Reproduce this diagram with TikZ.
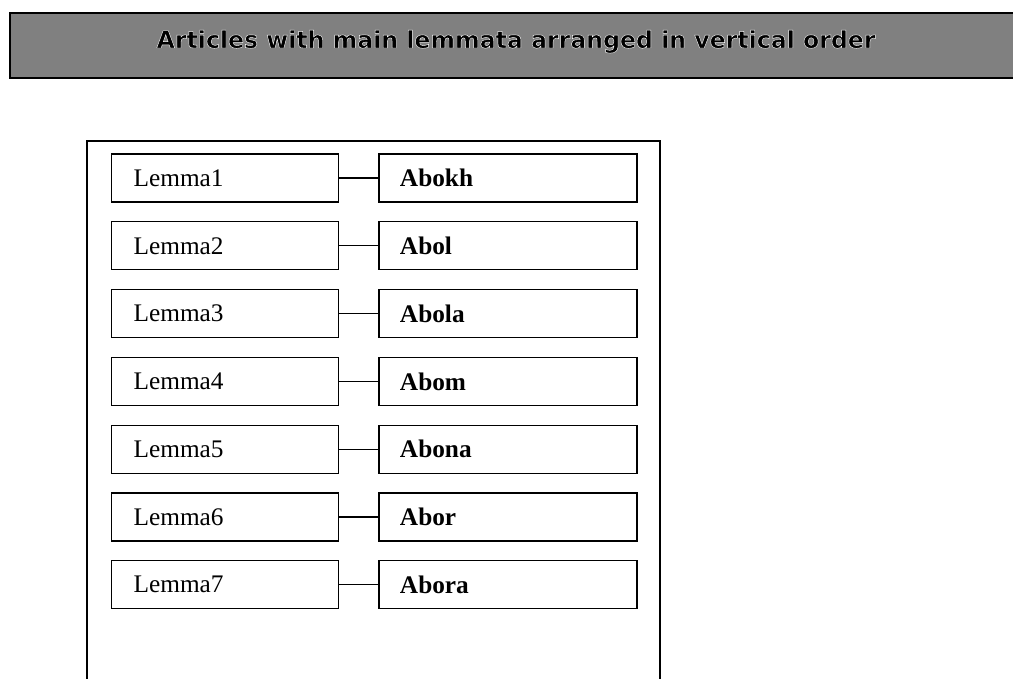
\documentclass[tikz,border=0pt]{standalone}
\usepackage{fontspec}
\usepackage{tikz}
\usetikzlibrary{positioning}

\setmainfont{Liberation Serif}
\newfontfamily\headfont{DejaVu Sans}
% black letters with a thin white rim
\newcommand{\rimtext}[1]{\special{pdf:literal direct 2 Tr 1 1 1 RG 0.3 w}#1\special{pdf:literal direct 0 Tr}}

\tikzset{
  lemmabox/.style={draw, line width=0.9pt, rectangle, anchor=west, minimum height=1.2cm,
    text width=4.575cm, inner xsep=0.55cm, align=left, font=\fontsize{18}{21}\selectfont},
  articlebox/.style={draw, line width=0.9pt, rectangle, minimum height=1.2cm,
    text width=5.4cm, inner xsep=0.525cm, align=left, font=\fontsize{18}{21}\selectfont\bfseries},
  link/.style={line width=0.9pt}
}

\begin{document}
\begin{tikzpicture}[x=0.025cm, y=-0.025cm]

    \useasboundingbox (0,0) rectangle (1013,678);

    % Header
    \draw[line width=1.2pt, fill=black!50] (10,13) rectangle (1030,78);
    \node[anchor=base, inner sep=0pt, font=\headfont\bfseries\fontsize{16.8}{20}\selectfont] (title) at (516,48)
        {\rimtext{Articles with main lemmata arranged in vertical order}};

    % Frame
    \draw[line width=1.2pt] (87,700) -- (87,141) -- (660,141) -- (660,700);

    % Nodes
    \node[lemmabox] (l1) at (111,178) {Lemma1};
    \node[lemmabox] (l2) at (111,245.8) {Lemma2};
    \node[lemmabox] (l3) at (111,313.6) {Lemma3};
    \node[lemmabox] (l4) at (111,381.4) {Lemma4};
    \node[lemmabox] (l5) at (111,449.2) {Lemma5};
    \node[lemmabox] (l6) at (111,517) {Lemma6};
    \node[lemmabox] (l7) at (111,584.8) {Lemma7};

    \node[articlebox, right=0.975cm of l1] (a1) {Abokh};
    \node[articlebox, right=0.975cm of l2] (a2) {Abol};
    \node[articlebox, right=0.975cm of l3] (a3) {Abola};
    \node[articlebox, right=0.975cm of l4] (a4) {Abom};
    \node[articlebox, right=0.975cm of l5] (a5) {Abona};
    \node[articlebox, right=0.975cm of l6] (a6) {Abor};
    \node[articlebox, right=0.975cm of l7] (a7) {Abora};

    % Lines
    \draw[link] (l1) -- (a1);
    \draw[link] (l2) -- (a2);
    \draw[link] (l3) -- (a3);
    \draw[link] (l4) -- (a4);
    \draw[link] (l5) -- (a5);
    \draw[link] (l6) -- (a6);
    \draw[link] (l7) -- (a7);

\end{tikzpicture}
\end{document}
